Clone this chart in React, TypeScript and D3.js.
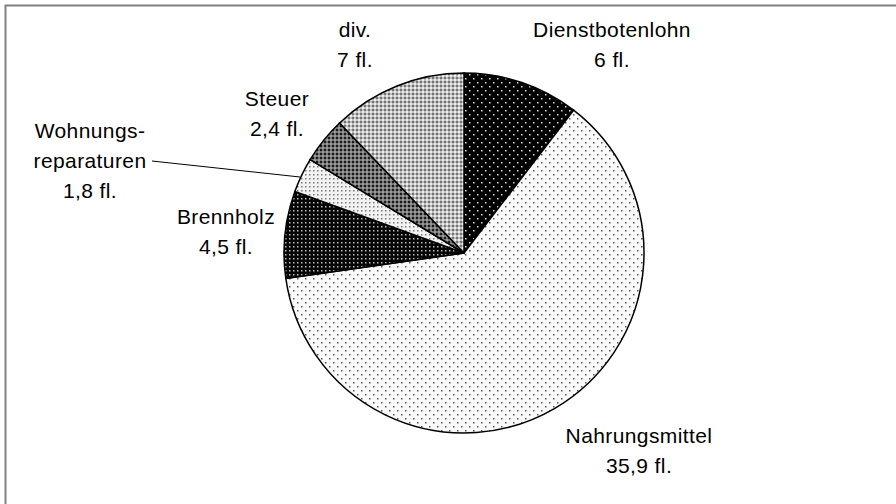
import React from 'react'
import * as d3 from 'd3'

const categories = ['Dienstbotenlohn', 'Nahrungsmittel', 'Brennholz', 'Wohnungsreparaturen', 'Steuer', 'div.']
const values = [6, 35.9, 4.5, 1.8, 2.4, 7]
const valueLabels = ['6 fl.', '35,9 fl.', '4,5 fl.', '1,8 fl.', '2,4 fl.', '7 fl.']
const nameLines = [['Dienstbotenlohn'], ['Nahrungsmittel'], ['Brennholz'], ['Wohnungs-', 'reparaturen'], ['Steuer'], ['div.']]

const width = 896
const height = 504
const cx = 464
const cy = 253
const radius = 180

// label anchor (center x, first baseline)
const labelPos = [
  [612, 37],
  [639, 443],
  [226, 224],
  [90, 138],
  [277, 106],
  [355, 37],
]

const patternIds = ['pDienst', 'pNahrung', 'pBrenn', 'pWohn', 'pSteuer', 'pDiv']

const pieArc = d3.arc<d3.PieArcDatum<number>>().innerRadius(0).outerRadius(radius)

function Patterns() {
  return (
    <defs>
      <pattern id="pDienst" width={8} height={8} patternUnits="userSpaceOnUse">
        <rect width={8} height={8} fill="#000" />
        <rect x={1} y={1} width={1.5} height={1.5} fill="#ddd" />
        <rect x={5} y={5} width={1.5} height={1.5} fill="#ddd" />
      </pattern>
      <pattern id="pNahrung" width={8} height={8} patternUnits="userSpaceOnUse">
        <rect width={8} height={8} fill="#fafafa" />
        <rect x={1} y={1} width={1.5} height={1.5} fill="#555" />
        <rect x={5} y={5} width={1.5} height={1.5} fill="#555" />
      </pattern>
      <pattern id="pBrenn" width={4} height={4} patternUnits="userSpaceOnUse">
        <rect width={4} height={4} fill="#050505" />
        <rect x={1} y={1} width={1.5} height={1.5} fill="#bbb" />
      </pattern>
      <pattern id="pWohn" width={4} height={4} patternUnits="userSpaceOnUse">
        <rect width={4} height={4} fill="#f2f2f2" />
        <rect x={1} y={1} width={1.5} height={1.5} fill="#777" />
      </pattern>
      <pattern id="pSteuer" width={4} height={4} patternUnits="userSpaceOnUse">
        <rect width={4} height={4} fill="#777" />
        <rect x={0} y={0} width={2} height={2} fill="#1a1a1a" />
        <rect x={2} y={2} width={2} height={2} fill="#999" />
      </pattern>
      <pattern id="pDiv" width={4} height={4} patternUnits="userSpaceOnUse">
        <rect width={4} height={4} fill="#bdbdbd" />
        <rect x={0} y={0} width={2} height={2} fill="#777" />
        <rect x={2} y={2} width={2} height={2} fill="#eee" />
      </pattern>
    </defs>
  )
}

export default function App() {
  const arcs = d3.pie<number>().sort(null).value(d => d)(values)

  return (
    <svg
      width={width}
      height={height}
      style={{ position: 'absolute', left: 0, top: 0, background: '#fff' }}
      fontFamily="'Liberation Sans', Arial, sans-serif"
    >
      <Patterns />
      <rect x={5.5} y={5.5} width={width + 10} height={height + 10} fill="#fff" stroke="#808080" strokeWidth={2} />
      <g transform={`translate(${cx},${cy})`}>
        {arcs.map((a, i) => (
          <path key={categories[i]} d={pieArc(a) as string} fill={`url(#${patternIds[i]})`} stroke="#000" strokeWidth={1.5} />
        ))}
      </g>
      {/* leader line for Wohnungsreparaturen */}
      <line x1={152} y1={161} x2={300} y2={177} stroke="#000" strokeWidth={1} />
      {categories.map((c, i) => {
        const [x, y] = labelPos[i]
        const lines = [...nameLines[i], valueLabels[i]]
        return (
          <text key={c} x={x} y={y} textAnchor="middle" fontSize={21} letterSpacing={0.4} fill="#000">
            {lines.map((t, j) => (
              <tspan key={j} x={x} dy={j === 0 ? 0 : 30}>{t}</tspan>
            ))}
          </text>
        )
      })}
    </svg>
  )
}
